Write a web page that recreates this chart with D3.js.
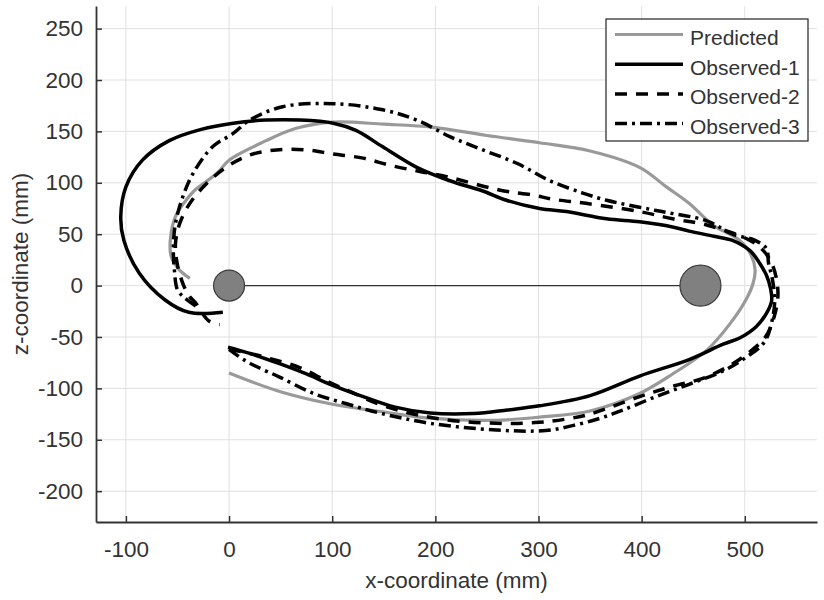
<!DOCTYPE html>
<html>
<head>
<meta charset="utf-8">
<script src="https://cdn.jsdelivr.net/npm/d3@7"></script>
<style>
body { margin: 0; background: #fff; }
text { font-family: "Liberation Sans", Arial, sans-serif; fill: #333; }
</style>
</head>
<body>
<div id="chart"></div>
<script>
// trajectories as [x, z] in mm
var predicted = [[0,-85],[49,-103],[98,-115],[150,-123],[195,-129],[259,-131],[301,-128],[350,-122],[398,-105],[430,-86],[463,-63],[485,-38],[501,-14],[508,2],[510,15],[506,30],[495,44],[469,59],[446,80],[424,96],[398,115],[350,131],[301,139],[250,146],[198,154],[150,157],[101,159],[65,153],[36,141],[0,122],[-12,109],[-33,93],[-44,80],[-52,67],[-57,44],[-56,28],[-48,15],[-38,7]];

var observed1 = [[-1,-60],[20,-66],[49,-76],[75,-86],[98,-96],[130,-108],[160,-118],[195,-124],[237,-124.5],[270,-121],[301,-117],[350,-107],[398,-88],[446,-72],[479,-57],[495,-51],[511,-40],[521,-27],[526,-15],[525,-3],[521,10],[513,24],[505,34],[488,44],[470,48],[446,53],[430,57],[398,62],[366,65],[327,72],[301,75],[269,83],[246,92],[214,102],[182,115],[149,135],[123,151],[101,158],[69,161],[36,161],[4,158],[-27,152],[-58,141],[-84,122],[-100,96],[-105,67],[-102,44],[-87,12],[-62,-14],[-39,-26],[-6,-26]];

var observed2 = [[0,-62],[20,-66],[40,-71],[69,-80],[95,-93],[117,-103],[150,-117],[200,-129],[259,-134],[300,-133],[326,-130],[350,-125],[398,-108],[430,-98],[460,-90],[485,-78],[503,-66],[520,-50],[528,-32],[532,-12],[531,5],[526,22],[518,34],[505,44],[463,59],[430,65],[398,72],[346,80],[314,84],[295,88],[262,93],[211,106],[185,111],[156,117],[130,124],[101,128],[75,132],[46,132],[20,127],[-3,115],[-22,99],[-38,80],[-48,60],[-52,40],[-50,20],[-44,0],[-38,-11],[-33,-16],[-20,-34],[-9,-38]];

var observed3 = [[0,-62],[14,-72],[27,-79],[49,-89],[82,-105],[114,-115],[146,-124],[195,-134],[259,-140.5],[307,-141],[334,-136],[360,-129],[382,-121],[414,-108],[446,-96],[479,-83],[501,-70],[519,-55],[526,-36],[529,-15],[527,5],[523,22],[521,36],[510,44],[488,50],[463,63],[414,73],[366,83],[343,90],[311,102],[279,119],[246,132],[214,145],[182,161],[149,171],[101,177],[52,174],[20,161],[4,148],[-16,135],[-35,109],[-45,86],[-52,60],[-54,38],[-53,15],[-50,-4],[-43,-12],[-32,-20]];

// the two spheres and the rod between them
var spheres = [[0,0],[457,0]];

var seriesNames = ["Predicted", "Observed-1", "Observed-2", "Observed-3"];
var xTicks = [-100, 0, 100, 200, 300, 400, 500];
var zTicks = [-200, -150, -100, -50, 0, 50, 100, 150, 200, 250];

var w = 824, h = 600;
var m = { left: 96, right: 817, top: 6, bottom: 522 };

var x = d3.scaleLinear().domain([-129, 570]).range([m.left, m.right]);
var y = d3.scaleLinear().domain([-230, 272]).range([m.bottom, m.top]);

var svg = d3.select("#chart").append("svg")
    .attr("width", w)
    .attr("height", h);

// grid
svg.append("g")
    .selectAll("line")
    .data(xTicks)
    .enter().append("line")
    .attr("x1", d => x(d)).attr("x2", d => x(d))
    .attr("y1", m.top).attr("y2", m.bottom)
    .attr("stroke", "#e0e0e0").attr("stroke-width", 1);

svg.append("g")
    .selectAll("line")
    .data(zTicks)
    .enter().append("line")
    .attr("x1", m.left).attr("x2", m.right)
    .attr("y1", d => y(d)).attr("y2", d => y(d))
    .attr("stroke", "#e0e0e0").attr("stroke-width", 1);

var line = d3.line()
    .x(d => x(d[0]))
    .y(d => y(d[1]))
    .curve(d3.curveCatmullRom.alpha(0.5));

var styles = [
    { color: "#999", width: 3.2, dash: null },
    { color: "#000", width: 3.5, dash: null },
    { color: "#000", width: 3.5, dash: "12,9" },
    { color: "#000", width: 3.5, dash: "12,5,3,5" }
];
var allSeries = [predicted, observed1, observed2, observed3];

// rod
svg.append("line")
    .attr("x1", x(spheres[0][0])).attr("x2", x(spheres[1][0]))
    .attr("y1", y(spheres[0][1])).attr("y2", y(spheres[1][1]))
    .attr("stroke", "#333").attr("stroke-width", 1.2);

allSeries.forEach(function(s, i) {
    svg.append("path")
        .datum(s)
        .attr("d", line)
        .attr("fill", "none")
        .attr("stroke", styles[i].color)
        .attr("stroke-width", styles[i].width)
        .attr("stroke-dasharray", styles[i].dash)
        .attr("stroke-linejoin", "round");
});

var radii = [15.5, 20.5];
svg.append("g").selectAll("circle")
    .data(spheres)
    .enter().append("circle")
    .attr("cx", d => x(d[0]))
    .attr("cy", d => y(d[1]))
    .attr("r", (d, i) => radii[i])
    .attr("fill", "#808080")
    .attr("stroke", "#3a3a3a")
    .attr("stroke-width", 1.2);

// axes (box off, ticks pointing in)
var fmt = d => String(d);
var xAxis = d3.axisBottom(x).tickValues(xTicks).tickFormat(fmt).tickSizeInner(-6).tickSizeOuter(0).tickPadding(19);
var yAxis = d3.axisLeft(y).tickValues(zTicks).tickFormat(fmt).tickSizeInner(-6).tickSizeOuter(0).tickPadding(13);

var gx = svg.append("g").attr("transform", "translate(0," + m.bottom + ")").call(xAxis);
var gy = svg.append("g").attr("transform", "translate(" + m.left + ",0)").call(yAxis);

[gx, gy].forEach(function(g) {
    g.select(".domain").attr("stroke", "#333").attr("stroke-width", 1.8);
    g.selectAll(".tick line").attr("stroke", "#333").attr("stroke-width", 1.5);
    g.selectAll(".tick text").style("font-size", "22.5px").attr("fill", "#333");
});

svg.append("text")
    .attr("x", (m.left + m.right) / 2)
    .attr("y", 588)
    .attr("text-anchor", "middle")
    .style("font-size", "22.5px")
    .text("x-coordinate (mm)");

svg.append("text")
    .attr("transform", "translate(28," + ((m.top + m.bottom) / 2) + ") rotate(-90)")
    .attr("text-anchor", "middle")
    .style("font-size", "22.5px")
    .text("z-coordinate (mm)");

// legend
var lg = svg.append("g");
lg.append("rect")
    .attr("x", 606).attr("y", 19)
    .attr("width", 202).attr("height", 122)
    .attr("fill", "#fff")
    .attr("stroke", "#333").attr("stroke-width", 1.3);

seriesNames.forEach(function(name, i) {
    var ry = 34.5 + i * 29.7;
    lg.append("line")
        .attr("x1", 615).attr("x2", 683)
        .attr("y1", ry).attr("y2", ry)
        .attr("stroke", styles[i].color)
        .attr("stroke-width", styles[i].width)
        .attr("stroke-dasharray", styles[i].dash);
    lg.append("text")
        .attr("x", 690)
        .attr("y", ry + 10.5)
        .style("font-size", "21px")
        .attr("fill", "#222")
        .text(name);
});
</script>
</body>
</html>
